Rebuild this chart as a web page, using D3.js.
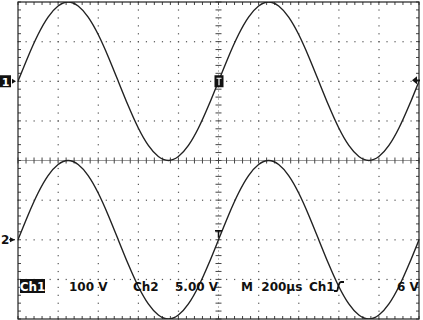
<!DOCTYPE html>
<html>
<head>
<meta charset="utf-8">
<script src="https://cdn.jsdelivr.net/npm/d3@7"></script>
<style>
  html, body { margin: 0; padding: 0; background: #fff; }
  svg { display: block; }
</style>
</head>
<body>
<script>
// time of each sample, µs from trigger (200 µs/div, 10 div on screen)
const timeUs = d3.range(-1000, 1001, 50);

// Ch1 readings, volts (100 V/div, ground 2 div above centre)
const ch1Volts = [
  0, 62, 118, 162, 190, 200, 190, 162, 118, 62,
  0, -62, -118, -162, -190, -200, -190, -162, -118, -62,
  0, 62, 118, 162, 190, 200, 190, 162, 118, 62,
  0, -62, -118, -162, -190, -200, -190, -162, -118, -62,
  0
];

// Ch2 readings, volts (5 V/div, ground 2 div below centre)
const ch2Volts = [
  0, 3.1, 5.9, 8.1, 9.5, 10, 9.5, 8.1, 5.9, 3.1,
  0, -3.1, -5.9, -8.1, -9.5, -10, -9.5, -8.1, -5.9, -3.1,
  0, 3.1, 5.9, 8.1, 9.5, 10, 9.5, 8.1, 5.9, 3.1,
  0, -3.1, -5.9, -8.1, -9.5, -10, -9.5, -8.1, -5.9, -3.1,
  0
];

const channels = [
  { name: "1", voltsPerDiv: 100, offsetDiv: 2, values: ch1Volts },
  { name: "2", voltsPerDiv: 5, offsetDiv: -2, values: ch2Volts }
];

// readout line at the bottom of the screen
const readout = [
  { text: "100 V", x: 69 },
  { text: "Ch2", x: 133 },
  { text: "5.00 V", x: 175 },
  { text: "M  200\u00b5s", x: 241 },
  { text: "Ch1", x: 309 },
  { text: "6 V", x: 397 }
];

const W = 423, H = 320;
const scrLeft = 18, scrRight = 419, scrTop = 2, scrBottom = 319;

const svg = d3.select("body").append("svg")
  .attr("width", W)
  .attr("height", H);

// time axis in µs, vertical in divisions
const x = d3.scaleLinear().domain([-1000, 1000]).range([scrLeft, scrRight]);
const yDiv = d3.scaleLinear().domain([-4, 4]).range([scrBottom, scrTop]);
const xDiv = d3.scaleLinear().domain([-5, 5]).range([scrLeft, scrRight]);

const grid = svg.append("g");

// dotted graticule: one dot every 1/5 division along each major line
const minorX = d3.range(-25, 26).map(d => d / 5);
const minorY = d3.range(-20, 21).map(d => d / 5);

d3.range(-4, 5).filter(d => d !== 0).forEach(i => {
  grid.selectAll(null)
    .data(minorY)
    .join("rect")
    .attr("x", xDiv(i) - 0.5)
    .attr("y", d => yDiv(d) - 0.5)
    .attr("width", 1.2)
    .attr("height", 1.2)
    .attr("fill", "#555");
});
d3.range(-3, 4).filter(d => d !== 0).forEach(j => {
  grid.selectAll(null)
    .data(minorX)
    .join("rect")
    .attr("x", d => xDiv(d) - 0.5)
    .attr("y", yDiv(j) - 0.5)
    .attr("width", 1.2)
    .attr("height", 1.2)
    .attr("fill", "#555");
});

// centre cross with small ticks
grid.append("line")
  .attr("x1", scrLeft).attr("x2", scrRight)
  .attr("y1", yDiv(0)).attr("y2", yDiv(0))
  .attr("stroke", "#999").attr("stroke-width", 1);
grid.append("line")
  .attr("x1", xDiv(0)).attr("x2", xDiv(0))
  .attr("y1", scrTop).attr("y2", scrBottom)
  .attr("stroke", "#bbb").attr("stroke-width", 1)
  .attr("stroke-dasharray", "2,2");

grid.selectAll(null)
  .data(minorX)
  .join("line")
  .attr("x1", d => xDiv(d)).attr("x2", d => xDiv(d))
  .attr("y1", yDiv(0) - 3).attr("y2", yDiv(0) + 3)
  .attr("stroke", "#444").attr("stroke-width", 1);
grid.selectAll(null)
  .data(minorY)
  .join("line")
  .attr("x1", xDiv(0) - 3).attr("x2", xDiv(0) + 3)
  .attr("y1", d => yDiv(d)).attr("y2", d => yDiv(d))
  .attr("stroke", "#444").attr("stroke-width", 1);

// ticks on the inside of the frame
grid.selectAll(null)
  .data(minorX)
  .join("line")
  .attr("x1", d => xDiv(d)).attr("x2", d => xDiv(d))
  .attr("y1", scrTop).attr("y2", scrTop + 3)
  .attr("stroke", "#444");
grid.selectAll(null)
  .data(minorX)
  .join("line")
  .attr("x1", d => xDiv(d)).attr("x2", d => xDiv(d))
  .attr("y1", scrBottom - 3).attr("y2", scrBottom)
  .attr("stroke", "#444");
grid.selectAll(null)
  .data(minorY)
  .join("line")
  .attr("x1", scrLeft).attr("x2", scrLeft + 3)
  .attr("y1", d => yDiv(d)).attr("y2", d => yDiv(d))
  .attr("stroke", "#444");
grid.selectAll(null)
  .data(minorY)
  .join("line")
  .attr("x1", scrRight - 3).attr("x2", scrRight)
  .attr("y1", d => yDiv(d)).attr("y2", d => yDiv(d))
  .attr("stroke", "#444");

// frame
grid.append("rect")
  .attr("x", scrLeft).attr("y", scrTop)
  .attr("width", scrRight - scrLeft).attr("height", scrBottom - scrTop)
  .attr("fill", "none")
  .attr("stroke", "#222").attr("stroke-width", 1.2);

// traces
svg.append("clipPath").attr("id", "screen")
  .append("rect")
  .attr("x", scrLeft).attr("y", scrTop)
  .attr("width", scrRight - scrLeft).attr("height", scrBottom - scrTop);

channels.forEach(ch => {
  const line = d3.line()
    .x((d, i) => x(timeUs[i]))
    .y(d => yDiv(d / ch.voltsPerDiv + ch.offsetDiv))
    .curve(d3.curveNatural);
  svg.append("path")
    .datum(ch.values)
    .attr("clip-path", "url(#screen)")
    .attr("d", line)
    .attr("fill", "none")
    .attr("stroke", "#222")
    .attr("stroke-width", 1.4);
});

// ground markers
const font = "'DejaVu Sans', sans-serif";
const g1 = yDiv(channels[0].offsetDiv);
const g2 = yDiv(channels[1].offsetDiv);

svg.append("rect")
  .attr("x", 0).attr("y", g1 - 6)
  .attr("width", 11).attr("height", 12)
  .attr("fill", "#111");
svg.append("text")
  .attr("x", 5.5).attr("y", g1 + 4.5)
  .attr("text-anchor", "middle")
  .attr("font-family", font).attr("font-weight", "bold").attr("font-size", 11)
  .attr("fill", "#fff")
  .text("1");
svg.append("path")
  .attr("d", `M12,${g1 - 2.5} L16,${g1} L12,${g1 + 2.5} Z`)
  .attr("fill", "#111");

svg.append("text")
  .attr("x", 1).attr("y", g2 + 4.5)
  .attr("font-family", font).attr("font-weight", "bold").attr("font-size", 12)
  .attr("fill", "#111")
  .text("2");
svg.append("path")
  .attr("d", `M10,${g2 - 2.5} L15,${g2} L10,${g2 + 2.5} Z`)
  .attr("fill", "#111");
svg.append("line")
  .attr("x1", 9).attr("x2", 15)
  .attr("y1", g2).attr("y2", g2)
  .attr("stroke", "#111");

// trigger position / level markers
const tx = x(0);
svg.append("rect")
  .attr("x", tx - 4).attr("y", g1 - 6)
  .attr("width", 9).attr("height", 12)
  .attr("fill", "#111");
svg.append("path")
  .attr("d", `M${tx - 2},${g1 - 3} H${tx + 3} M${tx + 0.5},${g1 - 3} V${g1 + 4}`)
  .attr("stroke", "#fff").attr("stroke-width", 1.2).attr("fill", "none");
svg.append("path")
  .attr("d", `M${tx - 3.5},${g2 - 9} H${tx + 3.5} M${tx},${g2 - 9} V${g2 - 2}`)
  .attr("stroke", "#111").attr("stroke-width", 1.5).attr("fill", "none");

svg.append("path")
  .attr("d", `M${scrRight - 7},${g1 - 1} L${scrRight - 2},${g1 - 5} L${scrRight - 2},${g1 + 3} Z`)
  .attr("fill", "#111");
svg.append("line")
  .attr("x1", scrRight - 3).attr("x2", scrRight + 1)
  .attr("y1", g1 - 1).attr("y2", g1 - 1)
  .attr("stroke", "#111").attr("stroke-width", 1.5);

// readout
const ry = 291;
svg.append("rect")
  .attr("x", 20).attr("y", 279)
  .attr("width", 25).attr("height", 14)
  .attr("fill", "#111");
svg.append("text")
  .attr("x", 32.5).attr("y", ry)
  .attr("text-anchor", "middle")
  .attr("font-family", font).attr("font-weight", "bold").attr("font-size", 12)
  .attr("fill", "#fff")
  .text("Ch1");

svg.selectAll(".readout")
  .data(readout)
  .join("text")
  .attr("class", "readout")
  .attr("x", d => d.x).attr("y", ry)
  .attr("font-family", font).attr("font-weight", "bold").attr("font-size", 12)
  .attr("fill", "#111")
  .attr("xml:space", "preserve")
  .style("white-space", "pre")
  .text(d => d.text);

// rising edge symbol
svg.append("path")
  .attr("d", "M334,291 H337 C338,291 338,282 341,282 H344")
  .attr("fill", "none")
  .attr("stroke", "#111").attr("stroke-width", 1.8);
</script>
</body>
</html>
